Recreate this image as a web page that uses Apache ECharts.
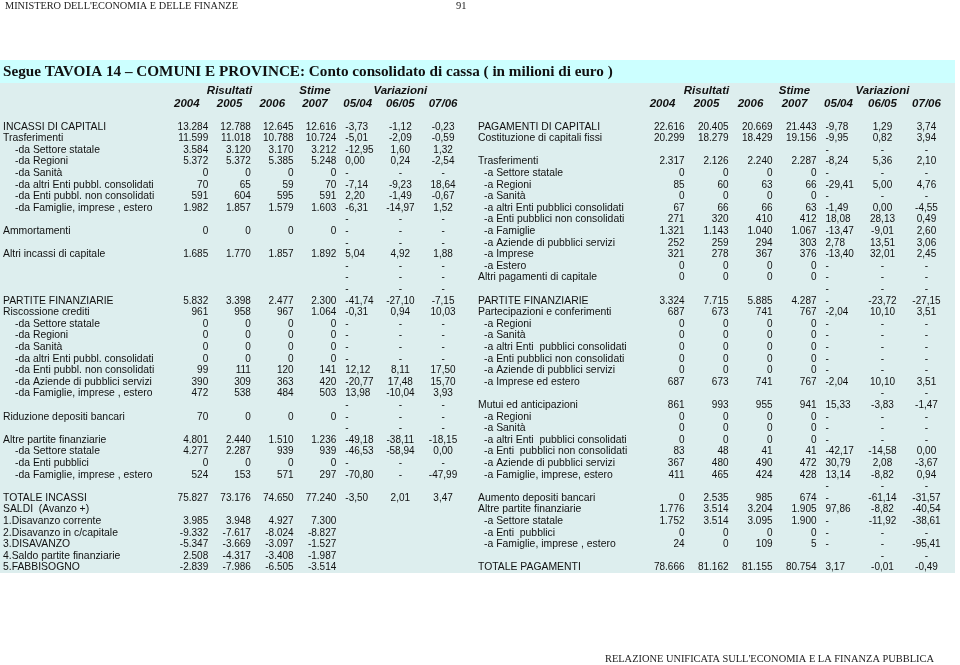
<!DOCTYPE html>
<html>
<head>
<meta charset="utf-8">
<script src="https://cdn.jsdelivr.net/npm/echarts@6.0.0/dist/echarts.min.js"></script>
<style>
  html, body { margin: 0; padding: 0; background: #fff; }
  #tavola { width: 960px; height: 665px; }
</style>
</head>
<body>
<div id="tavola"></div>
<script>
// colonne e intestazioni
const colonne = ['2004', '2005', '2006', '2007', '05/04', '06/05', '07/06'];
const intestazioni = ['', 'Risultati', '', 'Stime', '', 'Variazioni', ''];

// ---- INCASSI (parte sinistra) ----
const vociIncassi = [
  'INCASSI DI CAPITALI', 'Trasferimenti', '-da Settore statale', '-da Regioni', '-da Sanità',
  '-da altri Enti pubbl. consolidati', '-da Enti pubbl. non consolidati', '-da Famiglie, imprese , estero',
  '', 'Ammortamenti', '', 'Altri incassi di capitale', '', '', '',
  'PARTITE FINANZIARIE', 'Riscossione crediti', '-da Settore statale', '-da Regioni', '-da Sanità',
  '-da altri Enti pubbl. consolidati', '-da Enti pubbl. non consolidati', '-da Aziende di pubblici servizi',
  '-da Famiglie, imprese , estero', '', 'Riduzione depositi bancari', '', 'Altre partite finanziarie',
  '-da Settore statale', '-da Enti pubblici', '-da Famiglie, imprese , estero', '',
  'TOTALE INCASSI', 'SALDI  (Avanzo +)', '1.Disavanzo corrente', '2.Disavanzo in c/capitale',
  '3.DISAVANZO', '4.Saldo partite finanziarie', '5.FABBISOGNO'
];
const incassi2004 = [13284, 11599, 3584, 5372, 0, 70, 591, 1982, null, 0, null, 1685, null, null, null,
  5832, 961, 0, 0, 0, 0, 99, 390, 472, null, 70, null, 4801, 4277, 0, 524, null,
  75827, null, 3985, -9332, -5347, 2508, -2839];
const incassi2005 = [12788, 11018, 3120, 5372, 0, 65, 604, 1857, null, 0, null, 1770, null, null, null,
  3398, 958, 0, 0, 0, 0, 111, 309, 538, null, 0, null, 2440, 2287, 0, 153, null,
  73176, null, 3948, -7617, -3669, -4317, -7986];
const incassi2006 = [12645, 10788, 3170, 5385, 0, 59, 595, 1579, null, 0, null, 1857, null, null, null,
  2477, 967, 0, 0, 0, 0, 120, 363, 484, null, 0, null, 1510, 939, 0, 571, null,
  74650, null, 4927, -8024, -3097, -3408, -6505];
const incassi2007 = [12616, 10724, 3212, 5248, 0, 70, 591, 1603, null, 0, null, 1892, null, null, null,
  2300, 1064, 0, 0, 0, 0, 141, 420, 503, null, 0, null, 1236, 939, 0, 297, null,
  77240, null, 7300, -8827, -1527, -1987, -3514];
const incassiVar0504 = [-3.73, -5.01, -12.95, 0.00, '-', -7.14, 2.20, -6.31, '-', '-', '-', 5.04, '-', '-', '-',
  -41.74, -0.31, '-', '-', '-', '-', 12.12, -20.77, 13.98, '-', '-', '-', -49.18, -46.53, '-', -70.80, null,
  -3.50, null, null, null, null, null, null];
const incassiVar0605 = [-1.12, -2.09, 1.60, 0.24, '-', -9.23, -1.49, -14.97, '-', '-', '-', 4.92, '-', '-', '-',
  -27.10, 0.94, '-', '-', '-', '-', 8.11, 17.48, -10.04, '-', '-', '-', -38.11, -58.94, '-', '-', null,
  2.01, null, null, null, null, null, null];
const incassiVar0706 = [-0.23, -0.59, 1.32, -2.54, '-', 18.64, -0.67, 1.52, '-', '-', '-', 1.88, '-', '-', '-',
  -7.15, 10.03, '-', '-', '-', '-', 17.50, 15.70, 3.93, '-', '-', '-', -18.15, 0.00, '-', -47.99, null,
  3.47, null, null, null, null, null, null];

// ---- PAGAMENTI (parte destra) ----
const vociPagamenti = [
  'PAGAMENTI DI CAPITALI', 'Costituzione di capitali fissi', '', 'Trasferimenti', '-a Settore statale',
  '-a Regioni', '-a Sanità', '-a altri Enti pubblici consolidati', '-a Enti pubblici non consolidati',
  '-a Famiglie', '-a Aziende di pubblici servizi', '-a Imprese', '-a Estero', 'Altri pagamenti di capitale', '',
  'PARTITE FINANZIARIE', 'Partecipazioni e conferimenti', '-a Regioni', '-a Sanità',
  '-a altri Enti  pubblici consolidati', '-a Enti pubblici non consolidati', '-a Aziende di pubblici servizi',
  '-a Imprese ed estero', '', 'Mutui ed anticipazioni', '-a Regioni', '-a Sanità',
  '-a altri Enti  pubblici consolidati', '-a Enti  pubblici non consolidati', '-a Aziende di pubblici servizi',
  '-a Famiglie, imprese, estero', '', 'Aumento depositi bancari', 'Altre partite finanziarie',
  '-a Settore statale', '-a Enti  pubblici', '-a Famiglie, imprese , estero', '', 'TOTALE PAGAMENTI'
];
const pagamenti2004 = [22616, 20299, null, 2317, 0, 85, 0, 67, 271, 1321, 252, 321, 0, 0, null,
  3324, 687, 0, 0, 0, 0, 0, 687, null, 861, 0, 0, 0, 83, 367, 411, null,
  0, 1776, 1752, 0, 24, null, 78666];
const pagamenti2005 = [20405, 18279, null, 2126, 0, 60, 0, 66, 320, 1143, 259, 278, 0, 0, null,
  7715, 673, 0, 0, 0, 0, 0, 673, null, 993, 0, 0, 0, 48, 480, 465, null,
  2535, 3514, 3514, 0, 0, null, 81162];
const pagamenti2006 = [20669, 18429, null, 2240, 0, 63, 0, 66, 410, 1040, 294, 367, 0, 0, null,
  5885, 741, 0, 0, 0, 0, 0, 741, null, 955, 0, 0, 0, 41, 490, 424, null,
  985, 3204, 3095, 0, 109, null, 81155];
const pagamenti2007 = [21443, 19156, null, 2287, 0, 66, 0, 63, 412, 1067, 303, 376, 0, 0, null,
  4287, 767, 0, 0, 0, 0, 0, 767, null, 941, 0, 0, 0, 41, 472, 428, null,
  674, 1905, 1900, 0, 5, null, 80754];
const pagamentiVar0504 = [-9.78, -9.95, '-', -8.24, '-', -29.41, '-', -1.49, 18.08, -13.47, 2.78, -13.40, '-', '-', '-',
  '-', -2.04, '-', '-', '-', '-', '-', -2.04, null, 15.33, '-', '-', '-', -42.17, 30.79, 13.14, '-',
  '-', 97.86, '-', '-', '-', null, 3.17];
const pagamentiVar0605 = [1.29, 0.82, '-', 5.36, '-', 5.00, '-', 0.00, 28.13, -9.01, 13.51, 32.01, '-', '-', '-',
  -23.72, 10.10, '-', '-', '-', '-', '-', 10.10, '-', -3.83, '-', '-', '-', -14.58, 2.08, -8.82, '-',
  -61.14, -8.82, -11.92, '-', '-', '-', -0.01];
const pagamentiVar0706 = [3.74, 3.94, '-', 2.10, '-', 4.76, '-', -4.55, 0.49, 2.60, 3.06, 2.45, '-', '-', '-',
  -27.15, 3.51, '-', '-', '-', '-', '-', 3.51, '-', -1.47, '-', '-', '-', 0.00, -3.67, 0.94, '-',
  -31.57, -40.54, -38.61, '-', -95.41, '-', -0.49];

// formattazione all'italiana
function fmtAnno(v) {
  if (v === null) return '';
  const s = String(Math.abs(v)).replace(/\B(?=(\d{3})+(?!\d))/g, '.');
  return (v < 0 ? '-' : '') + s;
}
function fmtVar(v) {
  if (v === null) return '';
  if (v === '-') return '-';
  return v.toFixed(2).replace('.', ',');
}

const SANS = '"Liberation Sans", Arial, sans-serif';
const SERIF = '"Liberation Serif", "DejaVu Serif", serif';
const FONT_NUM = '10px ' + SANS;
const FONT_VOCE = '10.4px ' + SANS;

// celle numeriche -> dati della serie custom
function celle(anni, variazioni) {
  const data = [], testi = [];
  for (let c = 0; c < 7; c++) {
    const col = c < 4 ? anni[c] : variazioni[c - 4];
    for (let r = 0; r < col.length; r++) {
      const t = c < 4 ? fmtAnno(col[r]) : fmtVar(col[r]);
      if (t === '') continue;
      data.push([c, r]);
      testi.push(t);
    }
  }
  return { data, testi };
}

function renderCella(testi) {
  return function (params, api) {
    const c = api.value(0);
    const p = api.coord([c, api.value(1)]);
    const w = api.size([1, 0])[0];
    let x = p[0], align = 'center';
    if (c < 4) { x = p[0] + w / 2; align = 'right'; }
    else if (c === 4) { x = p[0] - w / 2 + 9; align = 'left'; }
    return {
      type: 'text',
      style: { x: x, y: p[1], text: testi[params.dataIndex], align: align,
               verticalAlign: 'middle', font: FONT_NUM, fill: '#111' }
    };
  };
}

function renderVoce(voci, rientro) {
  return function (params, api) {
    const r = api.value(1);
    const p = api.coord([0, r]);
    const w = api.size([1, 0])[0];
    const t = voci[r];
    return {
      type: 'text',
      style: { x: p[0] - w / 2 + (t.charAt(0) === '-' ? rientro : 3), y: p[1], text: t,
               align: 'left', verticalAlign: 'middle', font: FONT_VOCE, fill: '#111' }
    };
  };
}

const sx = celle([incassi2004, incassi2005, incassi2006, incassi2007],
                 [incassiVar0504, incassiVar0605, incassiVar0706]);
const dx = celle([pagamenti2004, pagamenti2005, pagamenti2006, pagamenti2007],
                 [pagamentiVar0504, pagamentiVar0605, pagamentiVar0706]);

const TOP = 121, H = 39 * 11.6;

const stileTesta = { fontStyle: 'italic', fontWeight: 'bold', fontSize: 11.5, fontFamily: SANS,
                     color: '#111', lineHeight: 13 };

function assePeriodi(gridIndex) {
  return {
    type: 'category', gridIndex: gridIndex, position: 'top', data: colonne,
    axisLine: { show: false }, axisTick: { show: false }, splitLine: { show: false },
    axisLabel: {
      interval: 0, margin: 11,
      formatter: function (v, i) {
        return '{h|' + (intestazioni[i] || ' ') + '}\n{y|' + v + '}';
      },
      rich: { h: stileTesta, y: stileTesta }
    }
  };
}
function asseVoci(gridIndex) {
  return { type: 'category', gridIndex: gridIndex, data: [''], show: false };
}
function asseRighe(gridIndex, voci) {
  return { type: 'category', gridIndex: gridIndex, data: voci.map(function (v, i) { return i; }),
           inverse: true, show: false };
}

const chart = echarts.init(document.getElementById('tavola'));
chart.setOption({
  animation: false,
  backgroundColor: '#fff',
  graphic: [
    { type: 'rect', shape: { x: 0, y: 60, width: 955, height: 23 }, style: { fill: '#ccffff' }, z: -10 },
    { type: 'rect', shape: { x: 0, y: 83, width: 955, height: 490 }, style: { fill: '#ddeeee' }, z: -10 },
    { type: 'text', x: 5, y: 6, style: { text: "MINISTERO DELL'ECONOMIA E DELLE FINANZE",
      font: '10.3px ' + SERIF, fill: '#222', verticalAlign: 'middle' } },
    { type: 'text', x: 456, y: 6, style: { text: '91', font: '10.5px ' + SERIF, fill: '#222', verticalAlign: 'middle' } },
    { type: 'text', x: 3, y: 72, style: {
      text: 'Segue TAVOIA 14 \u2013 COMUNI E PROVINCE: Conto consolidato di cassa ( in milioni di euro )',
      font: 'bold 15.2px ' + SERIF, fill: '#111', verticalAlign: 'middle' } },
    { type: 'text', x: 605, y: 659, style: { text: "RELAZIONE UNIFICATA SULL'ECONOMIA E LA FINANZA PUBBLICA",
      font: '10.4px ' + SERIF, fill: '#222', verticalAlign: 'middle' } }
  ],
  grid: [
    { left: 0, top: TOP, width: 165, height: H },
    { left: 165.5, top: TOP, width: 7 * 42.7, height: H },
    { left: 475, top: TOP, width: 165, height: H },
    { left: 640.5, top: TOP, width: 7 * 44, height: H }
  ],
  xAxis: [asseVoci(0), assePeriodi(1), asseVoci(2), assePeriodi(3)],
  yAxis: [asseRighe(0, vociIncassi), asseRighe(1, vociIncassi),
          asseRighe(2, vociPagamenti), asseRighe(3, vociPagamenti)],
  series: [
    { type: 'custom', xAxisIndex: 0, yAxisIndex: 0, renderItem: renderVoce(vociIncassi, 15),
      data: vociIncassi.map(function (v, i) { return [0, i]; }) },
    { type: 'custom', xAxisIndex: 1, yAxisIndex: 1, renderItem: renderCella(sx.testi), data: sx.data },
    { type: 'custom', xAxisIndex: 2, yAxisIndex: 2, renderItem: renderVoce(vociPagamenti, 9),
      data: vociPagamenti.map(function (v, i) { return [0, i]; }) },
    { type: 'custom', xAxisIndex: 3, yAxisIndex: 3, renderItem: renderCella(dx.testi), data: dx.data }
  ]
});
</script>
</body>
</html>
